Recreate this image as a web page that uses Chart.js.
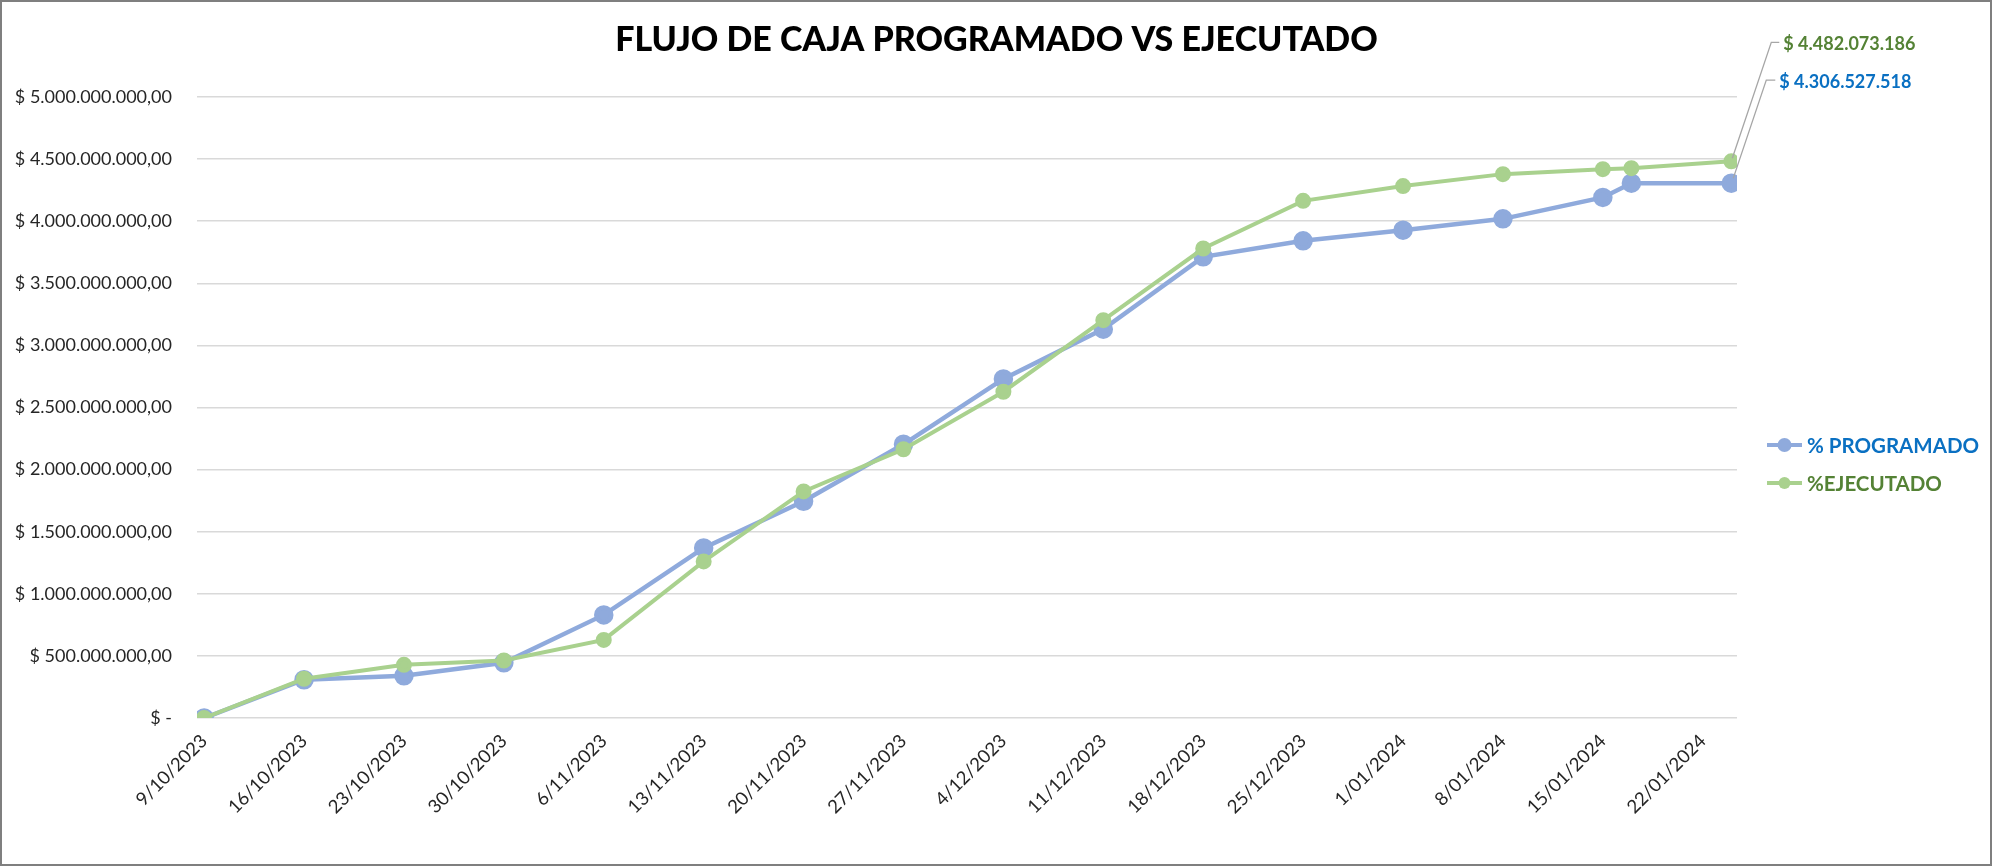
<!DOCTYPE html>
<html>
<head>
<meta charset="utf-8">
<script src="https://cdn.jsdelivr.net/npm/chart.js@4.4.0/dist/chart.umd.min.js"></script>
<style>
html,body{margin:0;padding:0;background:#fff;}
canvas{display:block;}
</style>
</head>
<body>
<canvas id="c" width="1993" height="867"></canvas>
<script>
// ---- data ----
const chartTitle = "FLUJO DE CAJA PROGRAMADO VS EJECUTADO";
const seriesNames = ["% PROGRAMADO", "%EJECUTADO"];
const pointDates = ["2023-10-09","2023-10-16","2023-10-23","2023-10-30","2023-11-06","2023-11-13","2023-11-20","2023-11-27","2023-12-04","2023-12-11","2023-12-18","2023-12-25","2024-01-01","2024-01-08","2024-01-15","2024-01-17","2024-01-24"];
const programado = [0, 308000000, 340000000, 445000000, 830000000, 1369000000, 1745000000, 2204000000, 2730000000, 3131000000, 3713000000, 3842000000, 3928000000, 4019000000, 4191000000, 4306527518, 4306527518];
const ejecutado = [0, 316000000, 428000000, 463000000, 629000000, 1261000000, 1824000000, 2164000000, 2627000000, 3203000000, 3780000000, 4164000000, 4283000000, 4379000000, 4419000000, 4427000000, 4482073186];
const xTickLabels = ["9/10/2023","16/10/2023","23/10/2023","30/10/2023","6/11/2023","13/11/2023","20/11/2023","27/11/2023","4/12/2023","11/12/2023","18/12/2023","25/12/2023","1/01/2024","8/01/2024","15/01/2024","22/01/2024"];
const yTickValues = [0, 500000000, 1000000000, 1500000000, 2000000000, 2500000000, 3000000000, 3500000000, 4000000000, 4500000000, 5000000000];
const yTickLabels = ["$ -","$ 500.000.000,00","$ 1.000.000.000,00","$ 1.500.000.000,00","$ 2.000.000.000,00","$ 2.500.000.000,00","$ 3.000.000.000,00","$ 3.500.000.000,00","$ 4.000.000.000,00","$ 4.500.000.000,00","$ 5.000.000.000,00"];

// ---- helpers ----
const DAY = 86400000;
const origin = Date.UTC(2023, 9, 9);
function isoToDay(s){ const [y,m,d] = s.split('-').map(Number); return Math.round((Date.UTC(y,m-1,d)-origin)/DAY); }
function labelToDay(s){ const [d,m,y] = s.split('/').map(Number); return Math.round((Date.UTC(y,m-1,d)-origin)/DAY); }
const xDays = pointDates.map(isoToDay);
const tickDays = xTickLabels.map(labelToDay);
function fmtMoney(v){ return "$ " + Math.round(v).toString().replace(/\B(?=(\d{3})+(?!\d))/g, "."); }

const FONT = 'Lato, "Open Sans", sans-serif';
const BLUE = '#8FAADC', GREEN = '#A9D18E';
const BLUE_TXT = '#0A70C2', GREEN_TXT = '#548235';
const AXIS_TXT = '#262626';

const decor = {
  id: 'decor',
  beforeDraw(chart){
    const c = chart.ctx; c.save(); c.fillStyle = '#fff'; c.fillRect(0,0,chart.width,chart.height); c.restore();
  },
  afterDatasetsDraw(chart){
    const c = chart.ctx;
    const pb = chart.getDatasetMeta(0).data; const pg = chart.getDatasetMeta(1).data;
    const b = pb[pb.length-1], g = pg[pg.length-1];
    c.save();
    c.strokeStyle = '#A6A6A6'; c.lineWidth = 1.3;
    c.beginPath(); c.moveTo(g.x+1, g.y-3); c.lineTo(g.x+40, g.y-119); c.lineTo(g.x+48, g.y-119); c.stroke();
    c.beginPath(); c.moveTo(b.x+2, b.y-5); c.lineTo(b.x+35, b.y-103); c.lineTo(b.x+44, b.y-103); c.stroke();
    c.font = 'bold 18px ' + FONT; c.textBaseline = 'middle'; c.textAlign = 'left';
    c.fillStyle = GREEN_TXT; c.fillText(fmtMoney(ejecutado[ejecutado.length-1]), g.x+52, g.y-117);
    c.fillStyle = BLUE_TXT; c.fillText(fmtMoney(programado[programado.length-1]), b.x+48, b.y-101);
    c.restore();
  },
  afterDraw(chart){
    const c = chart.ctx; const a = chart.chartArea;
    c.save();
    // title
    c.font = '900 34px ' + FONT; c.fillStyle = '#000'; c.textAlign = 'center'; c.textBaseline = 'middle';
    c.fillText(chartTitle, chart.width/2, 40);
    // legend
    const items = [[seriesNames[0], BLUE, BLUE_TXT, 7], [seriesNames[1], GREEN, GREEN_TXT, 6]];
    items.forEach((it, i) => {
      const y = 445 + i*38; const x0 = a.right + 30;
      c.strokeStyle = it[1]; c.lineWidth = 4; c.beginPath(); c.moveTo(x0, y); c.lineTo(x0+35, y); c.stroke();
      c.fillStyle = it[1]; c.beginPath(); c.arc(x0+17.5, y, it[3], 0, Math.PI*2); c.fill();
      c.font = 'bold 20.5px ' + FONT; c.fillStyle = it[2]; c.textAlign = 'left'; c.textBaseline = 'middle';
      c.fillText(it[0], x0+40, y+1);
    });
    // border
    c.strokeStyle = '#7F7F7F'; c.lineWidth = 2; c.strokeRect(1,1,chart.width-3,chart.height-3);
    c.restore();
  }
};

function build(){
  new Chart(document.getElementById('c'), {
    type: 'line',
    data: {
      datasets: [
        { label: seriesNames[0], data: xDays.map((d,i)=>({x:d, y:programado[i]})), borderColor: BLUE, backgroundColor: BLUE,
          pointBackgroundColor: BLUE, pointBorderColor: BLUE, borderWidth: 4.5, pointRadius: 7.5, pointHoverRadius: 7.5, tension: 0, order: 2 },
        { label: seriesNames[1], data: xDays.map((d,i)=>({x:d, y:ejecutado[i]})), borderColor: GREEN, backgroundColor: GREEN,
          pointBackgroundColor: GREEN, pointBorderColor: GREEN, borderWidth: 4, pointRadius: 6, pointHoverRadius: 6, tension: 0, order: 1 }
      ]
    },
    options: {
      responsive: false, animation: false, events: [],
      layout: { padding: { left: 0, right: 256, top: 97, bottom: 0 } },
      plugins: { legend: { display: false }, title: { display: false }, tooltip: { enabled: false } },
      scales: {
        x: {
          type: 'linear', min: -0.5, max: 107.4,
          afterBuildTicks: s => { s.ticks = tickDays.map(v => ({ value: v })); },
          afterFit: s => { s.height = 149; },
          ticks: { autoSkip: false, minRotation: 45, maxRotation: 45, padding: 12, color: AXIS_TXT,
                   font: { family: FONT, size: 18.5 }, callback: (v, i) => xTickLabels[i] },
          grid: { display: false, drawTicks: false },
          border: { display: false }
        },
        y: {
          min: 0, max: 5000000000,
          afterBuildTicks: s => { s.ticks = yTickValues.map(v => ({ value: v })); },
          afterFit: s => { s.width = 197; },
          ticks: { padding: 25, color: AXIS_TXT, font: { family: FONT, size: 18 }, callback: (v, i) => yTickLabels[i] },
          grid: { color: '#D9D9D9', lineWidth: 1.6, drawTicks: false },
          border: { display: false }
        }
      }
    },
    plugins: [decor]
  });
}
Promise.all([document.fonts.load('18px Lato'), document.fonts.load('bold 34px Lato'), document.fonts.load('900 34px Lato')]).then(build, build);
</script>
</body>
</html>
